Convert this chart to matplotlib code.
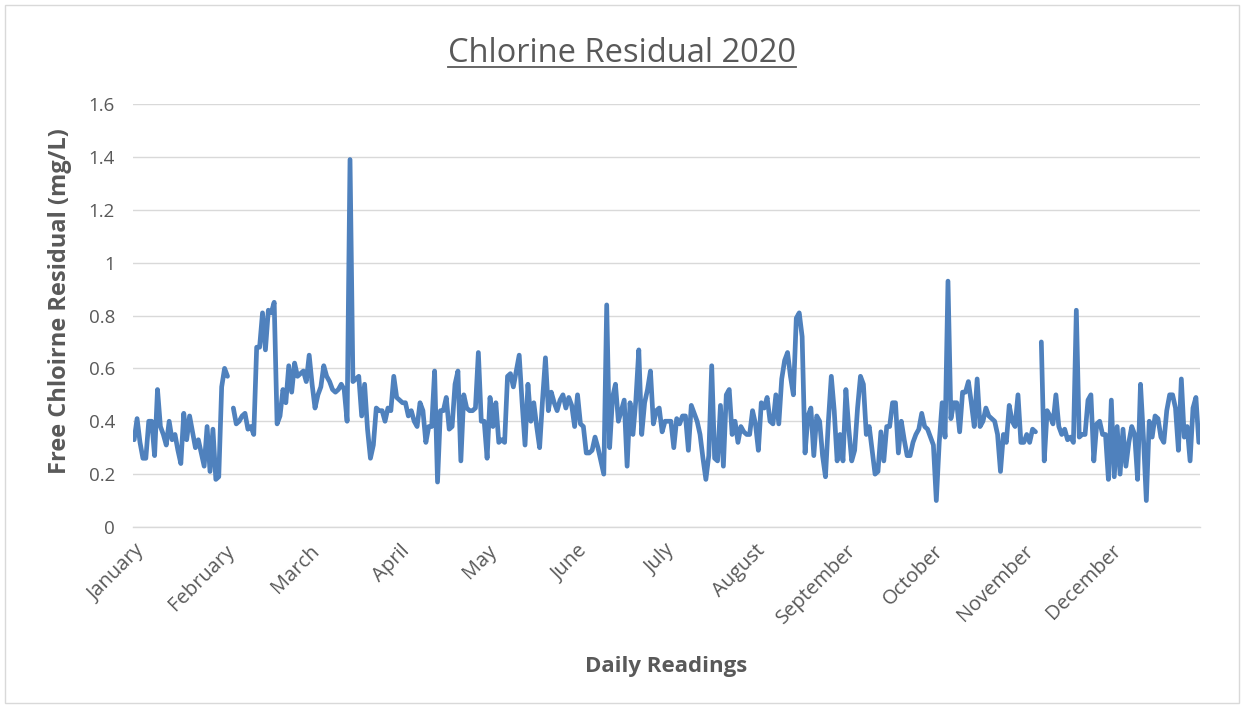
import numpy as np
import pandas as pd
import matplotlib
matplotlib.use("Agg")
import matplotlib.pyplot as plt
from matplotlib.patches import Rectangle
from matplotlib.lines import Line2D
import matplotlib.transforms as mtransforms

plt.rcParams['font.family'] = ['Open Sans', 'DejaVu Sans']

nan = np.nan

# Daily free chlorine residual readings (mg/L), one list per month of 2020
jan = [0.33, 0.41, 0.32, 0.26, 0.26, 0.40, 0.40, 0.27, 0.52, 0.38,
       0.35, 0.31, 0.40, 0.33, 0.35, 0.29, 0.24, 0.43, 0.33, 0.42,
       0.36, 0.30, 0.33, 0.28, 0.23, 0.38, 0.21, 0.37, 0.18, 0.19, 0.53]
feb = [0.60, 0.57, nan, 0.45, 0.39, 0.40, 0.42, 0.43, 0.37, 0.38,
       0.35, 0.68, 0.68, 0.81, 0.67, 0.82, 0.81, 0.85, 0.39, 0.42,
       0.52, 0.47, 0.61, 0.51, 0.62, 0.57, 0.58, 0.59, 0.55]
mar = [0.65, 0.54, 0.45, 0.50, 0.53, 0.61, 0.57, 0.55, 0.52, 0.51,
       0.52, 0.54, 0.52, 0.40, 1.39, 0.55, 0.56, 0.57, 0.42, 0.54,
       0.37, 0.26, 0.31, 0.45, 0.44, 0.44, 0.40, 0.45, 0.44, 0.57, 0.49]
apr = [0.48, 0.47, 0.47, 0.42, 0.44, 0.40, 0.38, 0.47, 0.44, 0.32,
       0.38, 0.38, 0.59, 0.17, 0.44, 0.44, 0.49, 0.37, 0.38, 0.54,
       0.59, 0.25, 0.50, 0.45, 0.44, 0.44, 0.45, 0.66, 0.40, 0.40]
may = [0.26, 0.49, 0.38, 0.47, 0.32, 0.33, 0.32, 0.57, 0.58, 0.53,
       0.59, 0.65, 0.47, 0.31, 0.54, 0.40, 0.47, 0.38, 0.30, 0.48,
       0.64, 0.44, 0.51, 0.47, 0.44, 0.48, 0.50, 0.45, 0.49, 0.46, 0.38]
jun = [0.50, 0.39, 0.38, 0.28, 0.28, 0.29, 0.34, 0.30, 0.25, 0.20,
       0.84, 0.30, 0.49, 0.54, 0.40, 0.44, 0.48, 0.23, 0.47, 0.35,
       0.48, 0.67, 0.35, 0.47, 0.52, 0.59, 0.39, 0.44, 0.45, 0.36]
jul = [0.40, 0.40, 0.40, 0.30, 0.41, 0.39, 0.42, 0.42, 0.29, 0.46,
       0.43, 0.40, 0.35, 0.26, 0.18, 0.27, 0.61, 0.26, 0.25, 0.46,
       0.23, 0.50, 0.52, 0.35, 0.40, 0.32, 0.38, 0.36, 0.35, 0.35, 0.44]
aug = [0.39, 0.29, 0.47, 0.45, 0.49, 0.40, 0.39, 0.50, 0.39, 0.56,
       0.63, 0.66, 0.57, 0.50, 0.79, 0.81, 0.72, 0.28, 0.42, 0.45,
       0.27, 0.42, 0.40, 0.27, 0.19, 0.40, 0.57, 0.44, 0.25, 0.35, 0.25]
sep = [0.52, 0.37, 0.25, 0.29, 0.45, 0.57, 0.54, 0.35, 0.38, 0.29,
       0.20, 0.21, 0.36, 0.25, 0.38, 0.38, 0.47, 0.47, 0.28, 0.40,
       0.33, 0.27, 0.27, 0.32, 0.35, 0.37, 0.43, 0.38, 0.37, 0.34]
oct_ = [0.31, 0.10, 0.32, 0.47, 0.34, 0.93, 0.41, 0.47, 0.47, 0.36,
        0.51, 0.51, 0.55, 0.47, 0.38, 0.56, 0.38, 0.40, 0.45, 0.42,
        0.41, 0.40, 0.35, 0.21, 0.35, 0.32, 0.46, 0.40, 0.38, 0.50, 0.32]
nov = [0.32, 0.35, 0.32, 0.37, 0.36, nan, 0.70, 0.25, 0.44, 0.42,
       0.39, 0.50, 0.38, 0.35, 0.37, 0.33, 0.34, 0.32, 0.82, 0.34,
       0.35, 0.35, 0.48, 0.50, 0.25, 0.39, 0.40, 0.35, 0.35, 0.18]
dec = [0.48, 0.19, 0.38, 0.20, 0.37, 0.23, 0.32, 0.38, 0.35, 0.18,
       0.54, 0.34, 0.10, 0.40, 0.34, 0.42, 0.41, 0.34, 0.32, 0.44,
       0.50, 0.50, 0.45, 0.29, 0.56, 0.34, 0.38, 0.25, 0.45, 0.49, 0.32]

month_labels = ["January", "February", "March", "April", "May", "June",
                "July", "August", "September", "October", "November", "December"]
y_ticks = [0, 0.2, 0.4, 0.6, 0.8, 1.0, 1.2, 1.4, 1.6]
y_tick_labels = ["0", "0.2", "0.4", "0.6", "0.8", "1", "1.2", "1.4", "1.6"]

residual = np.array(jan + feb + mar + apr + may + jun + jul + aug + sep
                    + oct_ + nov + dec, dtype=float)
dates = pd.date_range("2020-01-01", "2020-12-31", freq="D")
day = np.arange(len(dates))
month_start = day[dates.day == 1]

TEXT = "#595959"
GRID = "#D9D9D9"
LINE = "#4F81BD"

W, H = 1244, 708
fig = plt.figure(figsize=(W / 100, H / 100), dpi=100)
fig.patch.set_facecolor("white")

ax = fig.add_axes([133 / W, 1 - 527 / H, (1200 - 133) / W, (527 - 104) / H])
ax.plot(day, residual, color=LINE, linewidth=3.4,
        solid_joinstyle="round", solid_capstyle="round", zorder=3)

ax.set_xlim(-0.4, len(day) - 0.6)
ax.set_ylim(0, 1.6)
ax.set_yticks(y_ticks)
ax.set_yticklabels(y_tick_labels)
ax.yaxis.grid(True, color=GRID, linewidth=1.0)
ax.set_axisbelow(True)
for side in ("top", "right", "left"):
    ax.spines[side].set_visible(False)
ax.spines["bottom"].set_color(GRID)
ax.spines["bottom"].set_linewidth(1.0)

ax.set_xticks(month_start)
ax.set_xticklabels(month_labels, rotation=45, ha="right", va="top",
                   rotation_mode="anchor")
offset = mtransforms.ScaledTranslation(9 / 100, 0, fig.dpi_scale_trans)
for lbl in ax.get_xticklabels():
    lbl.set_transform(lbl.get_transform() + offset)
    lbl.set_fontsize(14.5)

ax.tick_params(axis="both", length=0, labelcolor=TEXT)
ax.tick_params(axis="y", labelsize=13.5, pad=13)
ax.tick_params(axis="x", pad=10)

ax.set_ylabel("Free Chloirne Residual (mg/L)", fontsize=17, fontweight="bold",
              color=TEXT)
ax.yaxis.set_label_coords(-0.057, 0.535)
ax.set_xlabel("Daily Readings", fontsize=16, fontweight="bold", color=TEXT)
ax.xaxis.set_label_coords(0.5, -0.305)

title = fig.text(0.5, 1 - 53 / H, "Chlorine Residual 2020", fontsize=23.5,
                 color=TEXT, ha="center", va="center")

# Chart-area border
fig.add_artist(Rectangle((5 / W, 5 / H), 1 - 10 / W, 1 - 10 / H,
                         transform=fig.transFigure, fill=False,
                         edgecolor=GRID, linewidth=1.0))

# Underline the title
fig.canvas.draw()
bb = title.get_window_extent()
uy = (bb.y0 + 3) / H
fig.add_artist(Line2D([bb.x0 / W, bb.x1 / W], [uy, uy], color=TEXT,
                      linewidth=1.3, transform=fig.transFigure))

fig.savefig("out.png", dpi=100)
